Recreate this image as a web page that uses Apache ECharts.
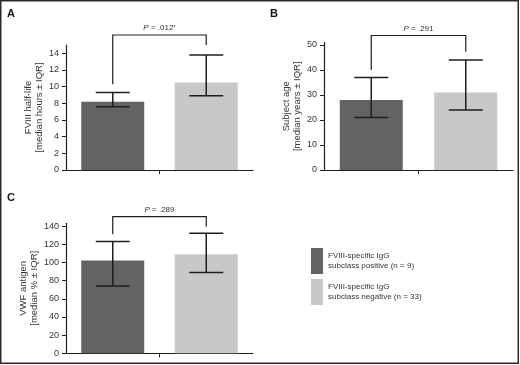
<!DOCTYPE html>
<html>
<head>
<meta charset="utf-8">
<script src="https://cdn.jsdelivr.net/npm/echarts@6/dist/echarts.min.js"></script>
<style>html,body{margin:0;padding:0;background:#fff}#c{width:520px;height:365px}</style>
</head>
<body>
<div id="c"></div>
<script>
// ---- data ----
const groups = ['FVIII-specific IgG\nsubclass positive (n = 9)', 'FVIII-specific IgG\nsubclass negative (n = 33)'];
const halfLifeMedian = [8.2, 10.5];
const halfLifeQ1 = [7.6, 8.9];
const halfLifeQ3 = [9.3, 13.8];
const ageMedian = [28, 31];
const ageQ1 = [21, 24];
const ageQ3 = [37, 44];
const vwfMedian = [102, 109];
const vwfQ1 = [74, 89];
const vwfQ3 = [123, 132];
const pValues = ['.012', '.291', '.289'];
const pStar = [true, false, false];
// bracket ends [left drop end, right drop end, top], in axis units
const bracketA = [10.3, 15.0, 16.2];
const bracketB = [40, 47.3, 53.8];
const bracketC = [131, 139.3, 150.3];
const yTicksA = [0, 2, 4, 6, 8, 10, 12, 14];
const yTicksB = [0, 10, 20, 30, 40, 50];
const yTicksC = [0, 20, 40, 60, 80, 100, 120, 140];
const yNames = ['FVIII half-life\n[median hours ± IQR]', 'Subject age\n[median years ± IQR]', 'VWF antigen\n[median % ± IQR]'];
const panelLetters = ['A', 'B', 'C'];

// ---- styles ----
const FONT = 'Liberation Sans, Arial, Helvetica, sans-serif';
const DARK = '#636363';
const LIGHT = '#c8c8c8';
const INK = '#1e1e1e';

const panels = [
  {med: halfLifeMedian, q1: halfLifeQ1, q3: halfLifeQ3, br: bracketA, ticks: yTicksA, max: 15, interval: 2,
   grid: {left: 66, top: 45, width: 187, height: 125}},
  {med: ageMedian, q1: ageQ1, q3: ageQ3, br: bracketB, ticks: yTicksB, max: 51, interval: 10,
   grid: {left: 324, top: 42.5, width: 189, height: 127.5}},
  {med: vwfMedian, q1: vwfQ1, q3: vwfQ3, br: bracketC, ticks: yTicksC, max: 143, interval: 20,
   grid: {left: 66, top: 223.3, width: 187, height: 130}}
];

const grids = [], xAxes = [], yAxes = [], series = [];
panels.forEach((p, i) => {
  grids.push(Object.assign({containLabel: false}, p.grid));
  xAxes.push({
    type: 'value', gridIndex: i, min: 0, max: groups.length,
    axisLine: {show: true, lineStyle: {color: INK, width: 1.2}},
    axisTick: {show: true, length: 4, customValues: [1], lineStyle: {color: INK, width: 1}},
    axisLabel: {show: false}, splitLine: {show: false}
  });
  yAxes.push({
    type: 'value', gridIndex: i, min: 0, max: p.max, interval: p.interval,
    name: yNames[i], nameLocation: 'middle', nameGap: 21, nameRotate: 90,
    nameTextStyle: {fontFamily: FONT, fontSize: 9.5, color: '#333', lineHeight: 11},
    axisLine: {show: true, lineStyle: {color: INK, width: 1.2}},
    axisTick: {show: true, length: 4, customValues: p.ticks, lineStyle: {color: INK, width: 1}},
    axisLabel: {customValues: p.ticks, fontFamily: FONT, fontSize: 9, color: '#333', margin: 7},
    splitLine: {show: false}
  });
  groups.forEach((g, k) => {
    series.push({
      type: 'bar', name: g, xAxisIndex: i, yAxisIndex: i, z: 1,
      barWidth: 63, barGap: '-100%',
      itemStyle: {color: k === 0 ? DARK : LIGHT},
      data: [[k + 0.5, p.med[k]]], silent: true
    });
  });
  series.push({
    type: 'custom', xAxisIndex: i, yAxisIndex: i, silent: true, z: 5,
    data: groups.map((g, k) => [k + 0.5, p.q1[k], p.q3[k]]),
    encode: {x: 0, y: [1, 2]},
    renderItem: function (params, api) {
      const x = api.value(0);
      const a = api.coord([x, api.value(1)]);
      const b = api.coord([x, api.value(2)]);
      const hw = 17;
      const st = {stroke: INK, lineWidth: 1.5};
      return {type: 'group', children: [
        {type: 'line', shape: {x1: a[0], y1: a[1], x2: b[0], y2: b[1]}, style: st},
        {type: 'line', shape: {x1: a[0] - hw, y1: a[1], x2: a[0] + hw, y2: a[1]}, style: st},
        {type: 'line', shape: {x1: b[0] - hw, y1: b[1], x2: b[0] + hw, y2: b[1]}, style: st}
      ]};
    }
  });
  series.push({
    type: 'custom', xAxisIndex: i, yAxisIndex: i, silent: true, clip: false, z: 5,
    data: [[0.5, 1.5, p.br[0], p.br[1], p.br[2]]],
    encode: {x: [0, 1]},
    renderItem: function (params, api) {
      const l = api.coord([api.value(0), api.value(2)]);
      const r = api.coord([api.value(1), api.value(3)]);
      const t = api.coord([api.value(0), api.value(4)])[1];
      const st = {stroke: INK, lineWidth: 1.2, fill: null};
      return {type: 'group', children: [
        {type: 'polyline', shape: {points: [[l[0], l[1]], [l[0], t], [r[0], t], [r[0], r[1]]]}, style: st},
        {type: 'text', x: (l[0] + r[0]) / 2, y: t - 3,
         style: {text: '{i|P} = ' + pValues[i] + (pStar[i] ? '{s|*}' : ''),
                 fontFamily: FONT, fontSize: 8, fill: '#333', align: 'center', verticalAlign: 'bottom',
                 rich: {i: {fontStyle: 'italic', fontFamily: FONT, fontSize: 8, fill: '#333'},
                        s: {fontFamily: FONT, fontSize: 6, fill: '#333', verticalAlign: 'top'}}}}
      ]};
    }
  });
});

const letterPos = [[7, 8], [270, 8], [7, 192]];
const graphics = panelLetters.map((t, i) => ({
  type: 'text', left: letterPos[i][0], top: letterPos[i][1],
  style: {text: t, font: 'bold 11px ' + FONT, fill: '#111'}
}));
graphics.push({type: 'rect', shape: {x: 0.75, y: 0.75, width: 517.5, height: 362.5},
  style: {fill: null, stroke: '#2a2a2a', lineWidth: 1.5}, silent: true});

const chart = echarts.init(document.getElementById('c'), null, {renderer: 'canvas'});
chart.setOption({
  animation: false,
  backgroundColor: '#fff',
  grid: grids, xAxis: xAxes, yAxis: yAxes, series: series,
  legend: {
    data: groups, orient: 'vertical', left: 311, top: 248, padding: 0,
    itemWidth: 12, itemHeight: 26, itemGap: 5, icon: 'rect', selectedMode: false,
    textStyle: {fontFamily: FONT, fontSize: 8, lineHeight: 10, color: '#333'}
  },
  graphic: graphics
});
</script>
</body>
</html>
